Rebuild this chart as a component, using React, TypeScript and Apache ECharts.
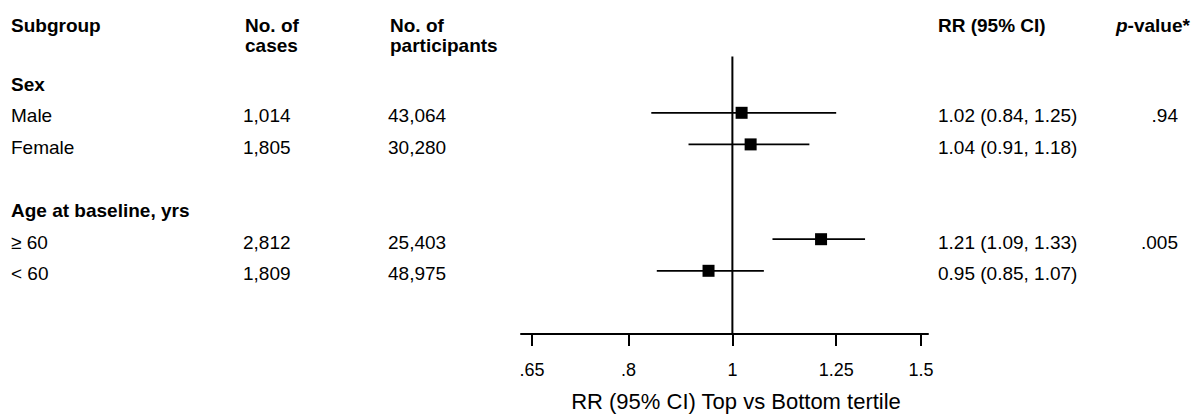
import React, { useEffect, useRef } from 'react';
import * as echarts from 'echarts';

const rowLabels = ['Sex', 'Male', 'Female', '', 'Age at baseline, yrs', '≥ 60', '< 60'];
const groupRow = [true, false, false, false, true, false, false];
const cases = [null, 1014, 1805, null, null, 2812, 1809];
const participants = [null, 43064, 30280, null, null, 25403, 48975];
const rr = [null, 1.02, 1.04, null, null, 1.21, 0.95];
const ciLow = [null, 0.84, 0.91, null, null, 1.09, 0.85];
const ciHigh = [null, 1.25, 1.18, null, null, 1.33, 1.07];
const pValues = ['', '.94', '', '', '', '.005', ''];
const tickValues = [0.65, 0.8, 1, 1.25, 1.5];
const tickLabels = ['.65', '.8', '1', '1.25', '1.5'];
const refValue = 1;
const axisTitle = 'RR (95% CI) Top vs Bottom tertile';
const headerSubgroup = 'Subgroup';
const headerCases = 'No. of\ncases';
const headerParticipants = 'No. of\nparticipants';
const headerRR = 'RR (95% CI)';

const FONT = '"Liberation Sans", Arial, Helvetica, sans-serif';
const FS = 19;
const TICK_FS = 18;
const TITLE_FS = 22;

const fmtInt = (v: number | null) => (v == null ? '' : v.toLocaleString('en-US'));
const fmtRR = (i: number) =>
  rr[i] == null ? '' : `${(rr[i] as number).toFixed(2)} (${(ciLow[i] as number).toFixed(2)}, ${(ciHigh[i] as number).toFixed(2)})`;

export default function App() {
  const ref = useRef<HTMLDivElement>(null);
  useEffect(() => {
    if (!ref.current) return;
    const chart = echarts.init(ref.current, undefined, { renderer: 'svg' });
    const lnTicks = tickValues.map((v) => Math.log(v));
    const labelFor = (v: number) => {
      let best = 0;
      let d = Infinity;
      lnTicks.forEach((t, i) => {
        if (Math.abs(t - v) < d) {
          d = Math.abs(t - v);
          best = i;
        }
      });
      return tickLabels[best];
    };
    const idx = rr.map((v, i) => (v == null ? -1 : i)).filter((i) => i >= 0);
    const textStyle = (extra: any) => ({
      fill: '#000',
      fontSize: FS,
      fontFamily: FONT,
      ...extra,
    });

    chart.setOption({
      animation: false,
      grid: { left: 521, right: 273, top: 18, bottom: 78, containLabel: false },
      xAxis: {
        type: 'value',
        min: Math.log(0.65) - 11 / 465,
        max: Math.log(1.5) + 7 / 465,
        splitLine: { show: false },
        axisLine: { show: true, onZero: false, lineStyle: { color: '#000', width: 2 } },
        axisTick: { show: true, customValues: lnTicks, length: 12, lineStyle: { color: '#000', width: 2 } },
        axisLabel: {
          customValues: lnTicks,
          formatter: (v: number) => labelFor(v),
          color: '#000',
          fontSize: TICK_FS,
          fontFamily: FONT,
          margin: 27,
        },
        name: axisTitle,
        nameLocation: 'middle',
        nameGap: 56,
        nameTextStyle: { color: '#000', fontSize: TITLE_FS, fontFamily: FONT, padding: [0, 0, 0, 23] },
      },
      yAxis: { type: 'value', min: -2, max: 8, inverse: true, show: false },
      graphic: [
        { type: 'text', x: 11, y: 15, style: textStyle({ text: headerSubgroup, fontWeight: 'bold', lineHeight: 20 }) },
        { type: 'text', x: 245, y: 15, style: textStyle({ text: headerCases, fontWeight: 'bold', lineHeight: 20 }) },
        { type: 'text', x: 390, y: 15, style: textStyle({ text: headerParticipants, fontWeight: 'bold', lineHeight: 20 }) },
        { type: 'text', x: 938, y: 15, style: textStyle({ text: headerRR, fontWeight: 'bold', lineHeight: 20 }) },
        {
          type: 'text',
          x: 1116,
          y: 15,
          style: textStyle({
            text: '{i|p}{b|-value*}',
            lineHeight: 20,
            rich: {
              i: { fontStyle: 'italic', fontWeight: 'bold', fontSize: FS, fontFamily: FONT, fill: '#000' },
              b: { fontWeight: 'bold', fontSize: FS, fontFamily: FONT, fill: '#000' },
            },
          }),
        },
      ],
      series: [
        {
          type: 'line',
          data: [
            [Math.log(refValue), -0.78],
            [Math.log(refValue), 8],
          ],
          symbol: 'none',
          lineStyle: { color: '#000', width: 2 },
          silent: true,
        },
        {
          type: 'custom',
          clip: false,
          data: idx.map((i) => [Math.log(ciLow[i] as number), Math.log(ciHigh[i] as number), i]),
          renderItem: (params: any, api: any) => {
            const row = api.value(2);
            const a = api.coord([api.value(0), row]);
            const b = api.coord([api.value(1), row]);
            return {
              type: 'line',
              shape: { x1: a[0], y1: a[1], x2: b[0], y2: b[1] },
              style: { stroke: '#000', lineWidth: 1.8 },
            };
          },
        },
        {
          type: 'scatter',
          data: idx.map((i) => [Math.log(rr[i] as number), i]),
          symbol: 'rect',
          symbolSize: 12,
          itemStyle: { color: '#000', opacity: 1 },
          z: 5,
        },
        {
          type: 'custom',
          clip: false,
          data: rowLabels.map((_, i) => [0, i]),
          renderItem: (params: any, api: any) => {
            const i = params.dataIndex;
            const y = api.coord([0, api.value(1)])[1] + 3;
            const base = { verticalAlign: 'middle', align: 'left' };
            const children: any[] = [
              {
                type: 'text',
                x: 11,
                y,
                style: textStyle({ ...base, text: rowLabels[i], fontWeight: groupRow[i] ? 'bold' : 'normal' }),
              },
              { type: 'text', x: 243, y, style: textStyle({ ...base, text: fmtInt(cases[i]) }) },
              { type: 'text', x: 388, y, style: textStyle({ ...base, text: fmtInt(participants[i]) }) },
              { type: 'text', x: 938, y, style: textStyle({ ...base, text: fmtRR(i) }) },
              { type: 'text', x: 1178, y, style: textStyle({ verticalAlign: 'middle', align: 'right', text: pValues[i] }) },
            ];
            return { type: 'group', children };
          },
        },
      ],
    });
    return () => chart.dispose();
  }, []);
  return <div ref={ref} style={{ position: 'absolute', left: 0, top: 0, width: 1201, height: 417 }} />;
}
